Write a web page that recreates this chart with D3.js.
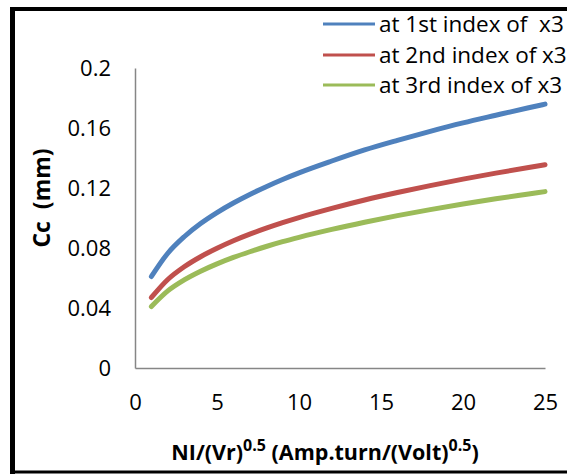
<!DOCTYPE html>
<html><head><meta charset="utf-8">
<script src="https://cdn.jsdelivr.net/npm/d3@7"></script>
<style>body{margin:0;background:#fff;} svg{display:block;}</style>
</head><body>
<svg id="c" width="567" height="474"></svg>
<script>
const xValues = [1,2,3,4,5,6,7,8,9,10,12,14,16,18,20,22,24,25];
const series1 = [0.061,0.0765,0.0875,0.0963,0.1036,0.110,0.1157,0.1209,0.1257,0.1301,0.138,0.1454,0.1518,0.1578,0.1634,0.1685,0.1735,0.1759];
const series2 = [0.047,0.0590,0.0675,0.0742,0.0798,0.0848,0.0892,0.0932,0.0969,0.1003,0.1064,0.1120,0.1170,0.1216,0.1259,0.1299,0.1337,0.1355];
const series3 = [0.041,0.0514,0.0587,0.0645,0.0694,0.0737,0.0775,0.0810,0.0842,0.0871,0.0924,0.0972,0.1016,0.1056,0.1093,0.1128,0.1160,0.1176];
const seriesNames = ["at 1st index of  x3","at 2nd index of x3","at 3rd index of x3"];
const seriesColors = ["#4F81BD","#C0504D","#9BBB59"];
const xTicks = [0,5,10,15,20,25];
const yTicks = [0,0.04,0.08,0.12,0.16,0.2];

const svg = d3.select("#c");
const font = "'Open Sans', sans-serif";
const x = d3.scaleLinear().domain([0,25]).range([135,545]);
const y = d3.scaleLinear().domain([0,0.2]).range([368,68]);

// frame
svg.append("line").attr("x1",12.5).attr("x2",12.5).attr("y1",7).attr("y2",474).attr("stroke","#000").attr("stroke-width",5);
svg.append("line").attr("x1",10).attr("x2",567).attr("y1",9).attr("y2",9).attr("stroke","#000").attr("stroke-width",4);
svg.append("line").attr("x1",10).attr("x2",567).attr("y1",472).attr("y2",472).attr("stroke","#000").attr("stroke-width",3);

// axes
const yAxis = d3.axisLeft(y).tickValues(yTicks).tickSize(0).tickPadding(24)
  .tickFormat(d => d === 0 ? "0" : String(+d.toFixed(2)));
const gy = svg.append("g").attr("transform","translate(135,0)").call(yAxis);
const xAxis = d3.axisBottom(x).tickValues(xTicks).tickSize(0).tickPadding(26).tickFormat(d3.format("d"));
const gx = svg.append("g").attr("transform","translate(0,368)").call(xAxis);
[gx,gy].forEach(g=>{
  g.select(".domain").attr("stroke","#868686").attr("stroke-width",1.5);
  g.selectAll("text").attr("font-family",font).attr("font-size",22).attr("fill","#000");
});

// lines
const allSeries = [series1,series2,series3];
const line = d3.line().x(d=>x(d[0])).y(d=>y(d[1])).curve(d3.curveMonotoneX);
allSeries.forEach((s,i)=>{
  svg.append("path").datum(xValues.map((xv,j)=>[xv,s[j]]))
    .attr("d",line).attr("fill","none").attr("stroke",seriesColors[i])
    .attr("stroke-width",5).attr("stroke-linecap","round");
});

// legend
const legY = [24,55,85];
seriesNames.forEach((n,i)=>{
  svg.append("line").attr("x1",323).attr("x2",375).attr("y1",legY[i]).attr("y2",legY[i])
    .attr("stroke",seriesColors[i]).attr("stroke-width",3);
  svg.append("text").attr("x",379).attr("y",legY[i]).attr("dy","0.35em")
    .attr("font-family",font).attr("font-size",22.5).attr("fill","#000")
    .style("white-space","pre").attr("xml:space","preserve").text(n);
});

// y title
svg.append("text").attr("transform","translate(50,198) rotate(-90)")
  .attr("text-anchor","middle").attr("font-family",font).attr("font-size",23)
  .attr("font-weight","bold").style("white-space","pre").attr("xml:space","preserve").text("Cc  (mm)");

// x title
const xt = svg.append("text").attr("x",325).attr("y",460).attr("text-anchor","middle")
  .attr("font-family",font).attr("font-size",21.5).attr("font-weight","bold");
xt.append("tspan").text("NI/(Vr)");
xt.append("tspan").attr("font-size",16).attr("dy",-9).text("0.5");
xt.append("tspan").attr("dy",9).text(" (Amp.turn/(Volt)");
xt.append("tspan").attr("font-size",16).attr("dy",-9).text("0.5");
xt.append("tspan").attr("dy",9).text(")");
</script>
</body></html>
